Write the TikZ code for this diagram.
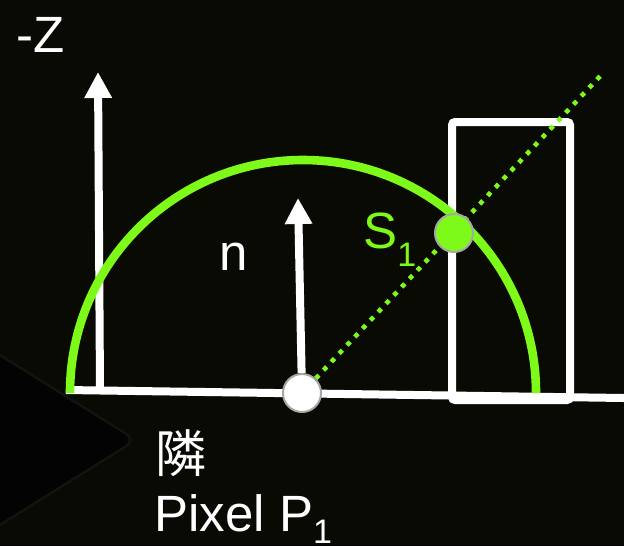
\documentclass[tikz,border=0pt]{standalone}
\usepackage{fontspec}
\setmainfont{Liberation Sans}
\newfontfamily\cjk{Noto Sans CJK JP}
\usepackage{tikz}
\usetikzlibrary{arrows.meta,backgrounds}

\definecolor{slidebg}{RGB}{9,10,4}
\definecolor{slideedge}{RGB}{19,20,14}
\definecolor{slidecorner}{RGB}{3,3,3}
\definecolor{hitgreen}{RGB}{125,250,25}
\newcommand\lowsub[2][9pt]{\raisebox{-#1}{\fontsize{17}{17}\selectfont #2}}

\begin{document}
\begin{tikzpicture}[x=0.5pt, y=-0.5pt,
  lbl/.style={text=white, font=\fontsize{25.5}{30}\selectfont, inner sep=0pt, anchor=base west},
  wline/.style={draw=white, line width=4pt},
  warrow/.style={wline, -{Triangle[length=13pt,width=13pt]}},
  ptdot/.style={circle, draw=gray!70, line width=1pt, minimum size=19pt, inner sep=0pt},
  gline/.style={draw=hitgreen, line width=4.3pt}]
  \useasboundingbox (0,0) rectangle (624,546);
  \begin{scope}[on background layer]
    \fill[slidebg] (0,0) rectangle (624,546);
    % corner of the slide behind
    \draw[slideedge, fill=slidecorner, line width=1.2pt, rounded corners=6pt]
      (-5,352) -- (136,440) -- (-5,528);
  \end{scope}

  % pixel and hit point
  \node[ptdot, fill=white] (p1) at (302,393) {};
  \node[ptdot, fill=hitgreen] (s1) at (454,233) {};
  \coordinate (lbase) at (66,390);
  \coordinate (rbase) at (624,398);
  \coordinate (zfoot) at (100,390);
  \coordinate (ztip) at (98,72);
  \coordinate (ntip) at (298,198);
  \coordinate (raytip) at (604,72);

  % labels
  \node[lbl] (zlbl) at (16,52) {-Z};
  \node[lbl] (nlbl) at (219,270) {n};
  \node[lbl, text=hitgreen] (slbl) at (363,248) {S\lowsub{1}};
  \node[lbl, anchor=center, font=\cjk\fontsize{25.5}{30}\selectfont] (klbl) at (181,453) {隣};
  \node[lbl] (plbl) at (154,531) {Pixel P\lowsub[6pt]{1}};

  \begin{scope}[on background layer]
    \draw[wline] (lbase) -- (rbase);
    \node[wline, rounded corners=1.5pt, minimum width=59pt, minimum height=139pt,
      inner sep=0pt] (occl) at (511,261) {};
    \draw[warrow] (zfoot) -- (ztip);
    \draw[warrow] (p1) -- (ntip);
    \draw[gline] (70,393) arc[start angle=180, end angle=360, radius=233];
    \draw[draw=hitgreen, line width=2.3pt, dash pattern=on 2.3pt off 3.4pt] (p1) -- (raytip);
  \end{scope}
\end{tikzpicture}
\end{document}
